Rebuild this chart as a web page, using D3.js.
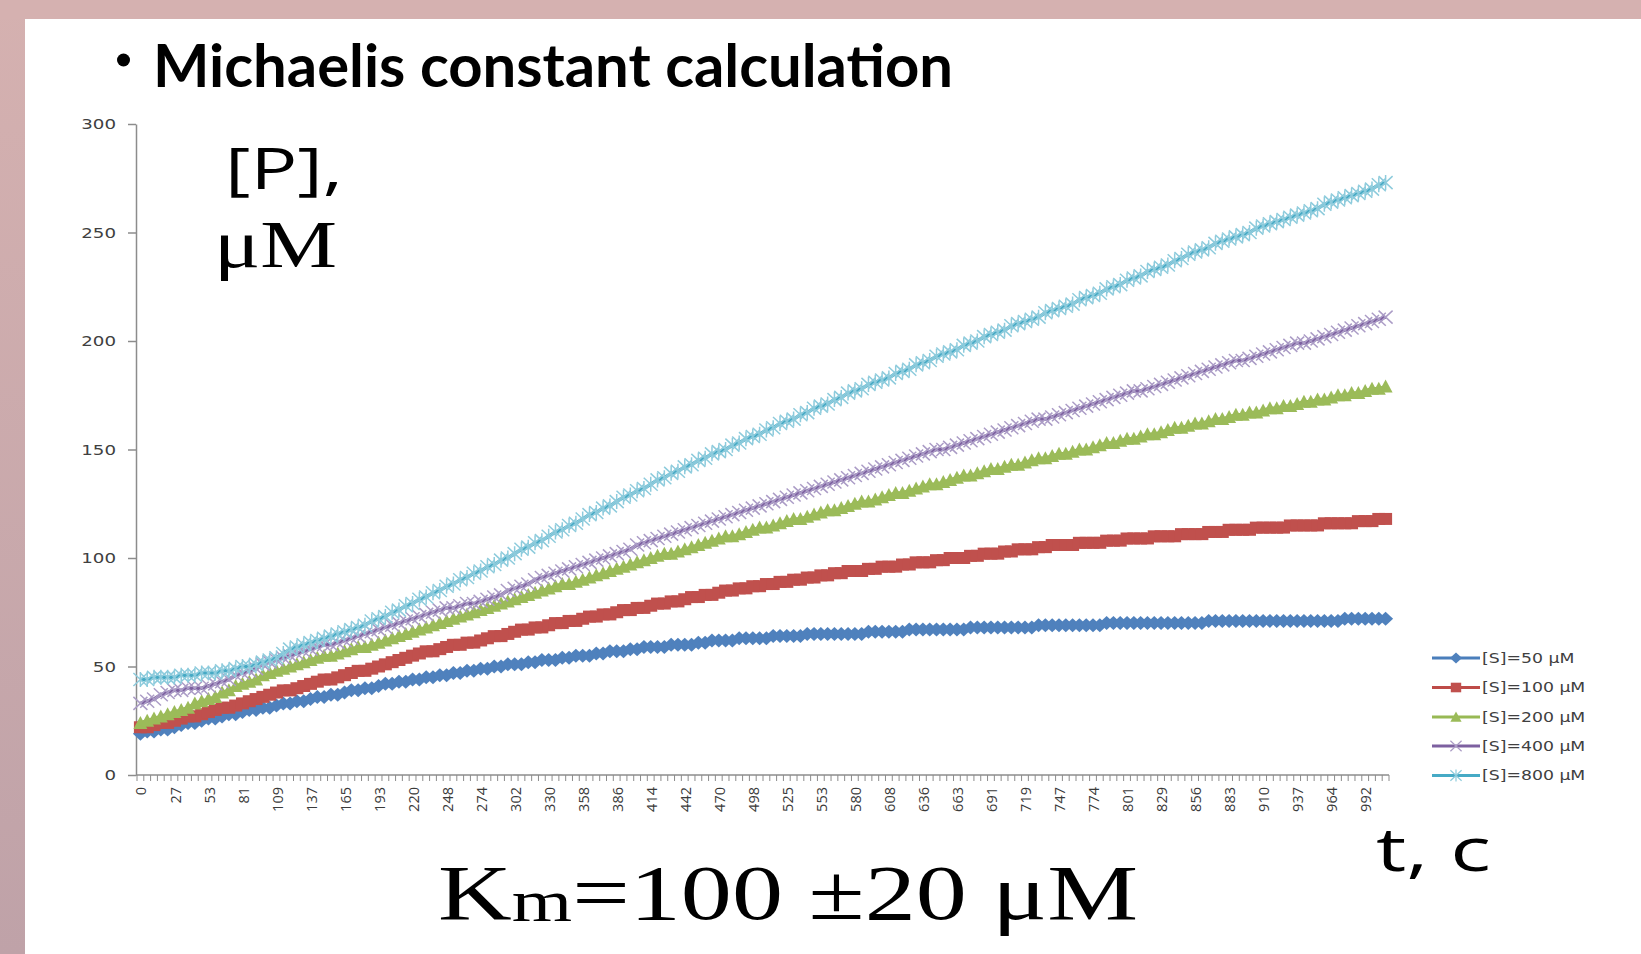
<!DOCTYPE html>
<html>
<head>
<meta charset="UTF-8"/>
<title>Michaelis constant calculation</title>
<script src="https://d3js.org/d3.v7.min.js"></script>
<style>
body { margin: 0; background: #fff; }
svg { display: block; }
</style>
</head>
<body>
<div id="chart"></div>
<script>

// DATA
// time labels (s), one every 5th point on the category axis
var tLabels = [0, 27, 53, 81, 109, 137, 165, 193, 220, 248, 274, 302, 330, 358, 386, 414, 442, 470, 498,
	525, 553, 580, 608, 636, 663, 691, 719, 747, 774, 801, 829, 856, 883, 910, 937, 964, 992];

var yTicks = [0, 50, 100, 150, 200, 250, 300];

// [P], uM for each substrate concentration
var s50 = [19,20,20,21,21, 22,23,24,24,25, 26,26,27,28,28, 29,30,30,31,31, 32,33,33,34,34,
	35,36,36,37,37, 38,39,39,40,40, 41,42,42,43,43, 44,44,45,45,46, 46,47,47,48,48,
	49,49,50,50,51, 51,51,52,52,53, 53,53,54,54,55, 55,55,56,56,57, 57,57,58,58,59,
	59,59,59,60,60, 60,60,61,61,62, 62,62,62,63,63, 63,63,63,64,64, 64,64,64,65,65,
	65,65,65,65,65, 65,65,66,66,66, 66,66,66,67,67, 67,67,67,67,67, 67,67,68,68,68,
	68,68,68,68,68, 68,68,69,69,69, 69,69,69,69,69, 69,69,70,70,70, 70,70,70,70,70,
	70,70,70,70,70, 70,70,71,71,71, 71,71,71,71,71, 71,71,71,71,71, 71,71,71,71,71,
	71,71,72,72,72, 72,72,72,72];

var s100 = [22,22,23,24,24, 25,26,27,27,28, 29,30,31,31,32, 33,34,35,36,37, 38,39,39,40,41,
	42,43,44,44,45, 46,47,48,48,49, 50,51,52,53,54, 55,56,57,57,58, 59,60,60,61,61,
	62,63,64,64,65, 66,67,67,68,68, 69,70,70,71,71, 72,73,73,74,74, 75,76,76,77,77,
	78,79,79,80,80, 81,82,82,83,83, 84,85,85,86,86, 87,87,88,88,89, 89,90,90,91,91,
	92,92,93,93,94, 94,94,95,95,96, 96,96,97,97,98, 98,98,99,99,100, 100,100,101,101,102,
	102,102,103,103,104, 104,104,105,105,106, 106,106,106,107,107, 107,107,108,108,108, 109,109,109,109,110,
	110,110,110,111,111, 111,111,112,112,112, 113,113,113,113,114, 114,114,114,114,115, 115,115,115,115,116,
	116,116,116,116,117, 117,117,118,118];

var s200 = [24,25,26,27,28, 29,30,31,33,34, 35,36,38,39,41, 42,43,44,46,47, 48,49,50,51,52,
	53,54,55,55,56, 57,58,59,59,60, 61,62,63,64,65, 66,67,68,69,70, 71,72,73,74,75,
	76,77,78,79,80, 81,82,83,84,85, 86,87,88,88,89, 90,91,92,93,94, 95,96,97,98,99,
	100,101,102,102,103, 104,105,106,107,108, 109,110,110,111,112, 113,114,114,115,116, 117,118,118,119,120,
	121,122,122,123,124, 125,126,126,127,128, 129,130,130,131,132, 133,134,134,135,136, 137,138,138,139,140,
	141,141,142,143,143, 144,145,146,146,147, 148,148,149,150,150, 151,152,153,153,154, 155,155,156,157,157,
	158,159,160,160,161, 162,162,163,164,164, 165,166,166,167,167, 168,169,169,170,170, 171,172,172,173,173,
	174,175,175,176,176, 177,178,178,179];

var s400 = [33,34,35,37,38, 39,39,40,40,40, 41,42,43,44,46, 47,48,49,51,52, 53,54,55,56,57,
	58,59,60,60,61, 62,63,64,65,66, 67,68,69,70,71, 72,73,74,75,76, 77,77,78,79,79,
	80,81,82,83,85, 86,87,88,90,91, 92,93,94,95,96, 97,98,99,100,101, 102,103,104,106,107,
	108,109,110,111,112, 113,114,115,116,117, 118,119,120,121,122, 123,124,125,126,127, 128,129,130,131,132,
	133,134,135,136,137, 138,139,140,141,142, 143,144,145,146,147, 148,149,150,150,151, 152,153,154,155,156,
	157,158,159,160,161, 162,163,164,164,165, 166,167,168,169,170, 171,172,173,174,175, 176,177,177,178,179,
	180,181,182,183,184, 185,186,187,188,189, 190,191,191,192,193, 194,195,196,197,198, 199,199,200,201,202,
	203,204,205,206,207, 208,209,210,211];

var s800 = [44,44,45,45,45, 45,46,46,46,47, 47,47,48,48,49, 50,50,51,52,53, 54,56,58,59,60,
	61,62,63,64,65, 66,67,68,69,71, 72,73,75,76,78, 79,81,82,84,85, 87,88,90,91,93,
	94,96,97,99,100, 102,104,105,107,108, 110,112,113,115,116, 118,120,121,123,124, 126,128,129,131,132,
	134,136,137,139,140, 142,143,145,146,148, 149,150,152,153,155, 156,157,159,160,162, 163,164,166,167,169,
	170,171,173,174,176, 177,178,180,181,182, 183,185,186,187,189, 190,191,193,194,195, 196,198,199,200,202,
	203,204,205,207,208, 209,210,211,213,214, 215,216,217,219,220, 221,222,224,225,226, 228,229,230,232,233,
	234,235,237,238,240, 241,242,243,245,246, 247,248,249,250,252, 253,254,255,256,257, 258,259,260,261,263,
	264,265,266,267,268, 269,270,272,273];

var seriesNames = ["[S]=50 \u03bcM", "[S]=100 \u03bcM", "[S]=200 \u03bcM", "[S]=400 \u03bcM", "[S]=800 \u03bcM"];
var seriesData = [s50, s100, s200, s400, s800];

// STYLES
var lineColors = ["#4a7ebb", "#be4b48", "#98b954", "#7d60a0", "#46aac5"];
var markerFill = ["#4f81bd", "#c0504d", "#9bbb59", "none", "none"];
var markerStroke = ["none", "none", "none", "#ab9cc6", "#8dcbdc"];
var markerType = ["diamond", "square", "triangle", "x", "star"];

// HELPER FUNCTIONS
function markerPath(type) {
	if (type == "diamond") return "M0,-7L7.5,0L0,7L-7.5,0Z";
	if (type == "square") return "M-6.5,-6H6.5V6H-6.5Z";
	if (type == "triangle") return "M0,-7L7,6L-7,6Z";
	if (type == "x") return "M-7,-6.5L7,6.5M-7,6.5L7,-6.5";
	return "M-7,-6.5L7,6.5M-7,6.5L7,-6.5M0,-7.5V7.5";
}

// MAIN
var W = 1641, H = 954;
var svg = d3.select("#chart").append("svg")
		.attr("width", W)
		.attr("height", H);

// slide frame
var defs = svg.append("defs");
var grad = defs.append("linearGradient").attr("id", "edge")
		.attr("x1", 0).attr("y1", 0).attr("x2", 0).attr("y2", 1);
grad.append("stop").attr("offset", "0%").attr("stop-color", "#d5b1b0");
grad.append("stop").attr("offset", "100%").attr("stop-color", "#bfa2a8");

svg.append("rect").attr("width", W).attr("height", H).attr("fill", "url(#edge)");
svg.append("rect").attr("x", 0).attr("y", 0).attr("width", W).attr("height", 19).attr("fill", "#d5b1b0");
svg.append("rect").attr("x", 25).attr("y", 19).attr("width", W - 25).attr("height", H - 19).attr("fill", "#ffffff");

// title
svg.append("circle").attr("cx", 123.5).attr("cy", 60).attr("r", 6.5).attr("fill", "#000");
svg.append("text")
		.attr("x", 153).attr("y", 87)
		.attr("font-family", "Lato, 'Open Sans', sans-serif")
		.attr("font-weight", 700)
		.attr("font-size", 59)
		.attr("textLength", 800)
		.attr("lengthAdjust", "spacingAndGlyphs")
		.attr("fill", "#000")
		.text("Michaelis constant calculation");

// scales
var n = s50.length;
var x = d3.scaleBand().domain(d3.range(n)).range([137, 1389]).padding(0);
var bw = x.bandwidth();
var y = d3.scaleLinear().domain([0, 300]).range([775, 124]);
var axisColor = "#8c8c8c";

// y axis
var yAxis = svg.append("g")
		.attr("transform", "translate(136,0)")
		.call(d3.axisLeft(y).tickValues(yTicks).tickSize(8).tickSizeOuter(0).tickFormat(d3.format("d")));
yAxis.select(".domain").attr("stroke", axisColor).attr("stroke-width", 1.5);
yAxis.selectAll(".tick line").attr("stroke", axisColor).attr("stroke-width", 1.5);
yAxis.selectAll(".tick text")
		.attr("x", 0)
		.attr("dy", "0.36em")
		.attr("transform", "translate(-20,0) scale(1.35,1)")
		.attr("font-family", "'DejaVu Sans', sans-serif")
		.attr("font-size", 13.5)
		.attr("fill", "#404040");

// x axis (category axis, ticks between categories)
var xAxis = svg.append("g");
xAxis.append("line")
		.attr("x1", 136).attr("x2", x.range()[1])
		.attr("y1", y(0)).attr("y2", y(0))
		.attr("stroke", axisColor).attr("stroke-width", 1.5);
xAxis.selectAll(".xtick")
		.data(d3.range(n + 1))
		.enter().append("line")
		.attr("class", "xtick")
		.attr("x1", function(i) { return i < n ? x(i) : x.range()[1]; })
		.attr("x2", function(i) { return i < n ? x(i) : x.range()[1]; })
		.attr("y1", y(0)).attr("y2", y(0) + 6)
		.attr("stroke", axisColor).attr("stroke-width", 1);
xAxis.selectAll(".xlabel")
		.data(tLabels)
		.enter().append("text")
		.attr("class", "xlabel")
		.attr("transform", function(d, k) { return "translate(" + (x(k * 5) + bw / 2 + 1) + "," + (y(0) + 12) + ") rotate(-90)"; })
		.attr("text-anchor", "end")
		.attr("dy", "0.35em")
		.attr("font-family", "'Open Sans', sans-serif")
		.attr("font-size", 14.5)
		.attr("fill", "#3a3a3a")
		.text(function(d) { return d; });

// series
var line = d3.line()
		.x(function(d, i) { return x(i) + bw / 2; })
		.y(function(d) { return y(d); });

for (var s = 0; s < seriesData.length; s++) {
	var g = svg.append("g");
	g.append("path")
		.datum(seriesData[s])
		.attr("d", line)
		.attr("fill", "none")
		.attr("stroke", lineColors[s])
		.attr("stroke-width", 3.5)
		.attr("stroke-linejoin", "round");
	g.selectAll(".mk")
		.data(seriesData[s])
		.enter().append("path")
		.attr("class", "mk")
		.attr("transform", function(d, i) { return "translate(" + (x(i) + bw / 2) + "," + y(d) + ")"; })
		.attr("d", markerPath(markerType[s]))
		.attr("fill", markerFill[s])
		.attr("stroke", markerStroke[s])
		.attr("stroke-width", 1.5);
}

// legend
var legend = svg.append("g");
var legendY = [658, 687.5, 717, 746, 775.5];
for (var s = 0; s < seriesNames.length; s++) {
	var lg = legend.append("g").attr("transform", "translate(1432," + legendY[s] + ")");
	lg.append("line").attr("x1", 0).attr("x2", 48).attr("y1", 0).attr("y2", 0)
		.attr("stroke", lineColors[s]).attr("stroke-width", 3);
	lg.append("path")
		.attr("transform", "translate(24,0) scale(0.8)")
		.attr("d", markerPath(markerType[s]))
		.attr("fill", markerFill[s])
		.attr("stroke", markerStroke[s])
		.attr("stroke-width", 1.5);
	lg.append("text")
		.attr("transform", "translate(50,0) scale(1.28,1)")
		.attr("dy", "0.36em")
		.attr("font-family", "'DejaVu Sans', sans-serif")
		.attr("font-size", 13.5)
		.attr("fill", "#404040")
		.text(seriesNames[s]);
}

// annotations
svg.append("text")
		.attr("x", 225).attr("y", 189)
		.attr("font-family", "'Open Sans', sans-serif")
		.attr("font-size", 57)
		.attr("textLength", 118)
		.attr("lengthAdjust", "spacingAndGlyphs")
		.attr("fill", "#000")
		.text("[P],");
svg.append("text")
		.attr("x", 214).attr("y", 267)
		.attr("font-family", "'Liberation Serif', 'Times New Roman', serif")
		.attr("font-size", 68)
		.attr("textLength", 123)
		.attr("lengthAdjust", "spacingAndGlyphs")
		.attr("fill", "#000")
		.text("\u03bcM");
svg.append("text")
		.attr("x", 1376).attr("y", 871)
		.attr("font-family", "'Open Sans', sans-serif")
		.attr("font-size", 60)
		.attr("textLength", 115)
		.attr("lengthAdjust", "spacingAndGlyphs")
		.attr("fill", "#000")
		.text("t, c");

var km = svg.append("text")
		.attr("x", 438).attr("y", 919)
		.attr("font-family", "'Liberation Serif', 'Times New Roman', serif")
		.attr("font-size", 79)
		.attr("textLength", 700)
		.attr("lengthAdjust", "spacingAndGlyphs")
		.attr("fill", "#000");
km.append("tspan").text("K");
km.append("tspan").attr("font-size", 60).attr("dy", 2).text("m");
km.append("tspan").attr("dy", -2).text("=100 \u00b120 \u03bcM");

</script>
</body>
</html>
